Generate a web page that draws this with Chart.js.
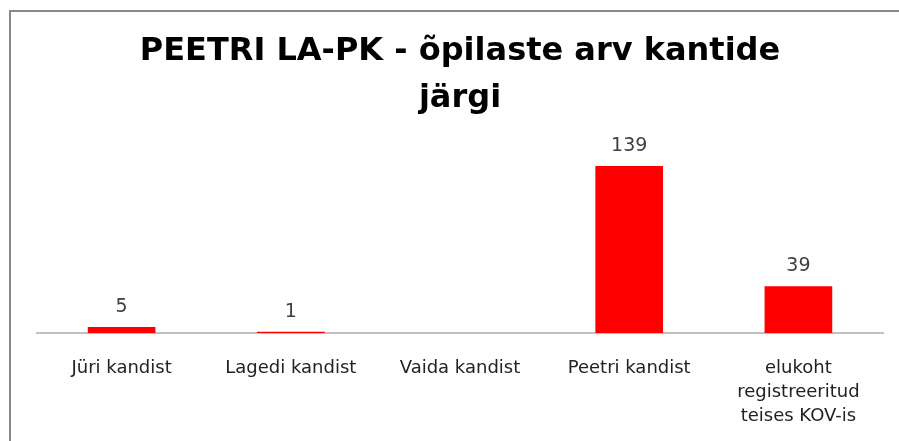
<!DOCTYPE html>
<html>
<head>
<meta charset="utf-8">
<script src="https://cdn.jsdelivr.net/npm/chart.js@4/dist/chart.umd.min.js"></script>
<style>
html,body{margin:0;padding:0;background:#fff;overflow:hidden;}
#wrap{width:899px;height:441px;position:relative;}
</style>
</head>
<body>
<div id="wrap"><canvas id="c" width="899" height="441"></canvas></div>
<script>
const categories = [
  "Jüri kandist",
  "Lagedi kandist",
  "Vaida kandist",
  "Peetri kandist",
  ["elukoht", "registreeritud", "teises KOV-is"]
];
const values = [5, 1, null, 139, 39];
const titleLines = ["PEETRI LA-PK - õpilaste arv kantide", "järgi"];

const frame = {
  id: 'frame',
  beforeDraw(chart) {
    const ctx = chart.ctx;
    ctx.save();
    ctx.fillStyle = '#fff';
    ctx.fillRect(0, 0, chart.width, chart.height);
    ctx.strokeStyle = '#888888';
    ctx.lineWidth = 2;
    ctx.beginPath();
    ctx.moveTo(10, chart.height);
    ctx.lineTo(10, 11);
    ctx.lineTo(chart.width, 11);
    ctx.stroke();
    ctx.restore();
  }
};

const valueLabels = {
  id: 'valueLabels',
  afterDatasetsDraw(chart) {
    const ctx = chart.ctx;
    const meta = chart.getDatasetMeta(0);
    ctx.save();
    ctx.font = '19px "DejaVu Sans", sans-serif';
    ctx.fillStyle = '#404040';
    ctx.textAlign = 'center';
    ctx.textBaseline = 'middle';
    meta.data.forEach((bar, i) => {
      const v = values[i];
      if (v === null || v === undefined) return;
      ctx.fillText(String(v), bar.x, bar.y - 20);
    });
    ctx.restore();
  }
};

new Chart(document.getElementById('c'), {
  type: 'bar',
  data: {
    labels: categories,
    datasets: [{
      data: values,
      backgroundColor: '#ff0000',
      borderWidth: 0,
      categoryPercentage: 1,
      barPercentage: 0.4
    }]
  },
  options: {
    responsive: false,
    animation: false,
    layout: { padding: { left: 37, right: 16, top: 0, bottom: 0 } },
    plugins: {
      legend: { display: false },
      tooltip: { enabled: false },
      title: {
        display: true,
        fullSize: false,
        text: titleLines,
        color: '#000',
        font: { family: '"DejaVu Sans", sans-serif', size: 32, weight: 'bold', lineHeight: 1.47 },
        padding: { top: 28, bottom: 3 }
      }
    },
    scales: {
      x: {
        grid: { display: false },
        border: { display: true, color: '#c0c0c0', width: 2 },
        ticks: {
          color: '#222',
          font: { family: '"DejaVu Sans", sans-serif', size: 18, lineHeight: 1.31 },
          padding: 16,
          maxRotation: 0,
          autoSkip: false
        },
        afterFit(scale) { scale.height = 108; }
      },
      y: {
        display: false,
        min: 0,
        max: 173
      }
    }
  },
  plugins: [frame, valueLabels]
});
</script>
</body>
</html>
